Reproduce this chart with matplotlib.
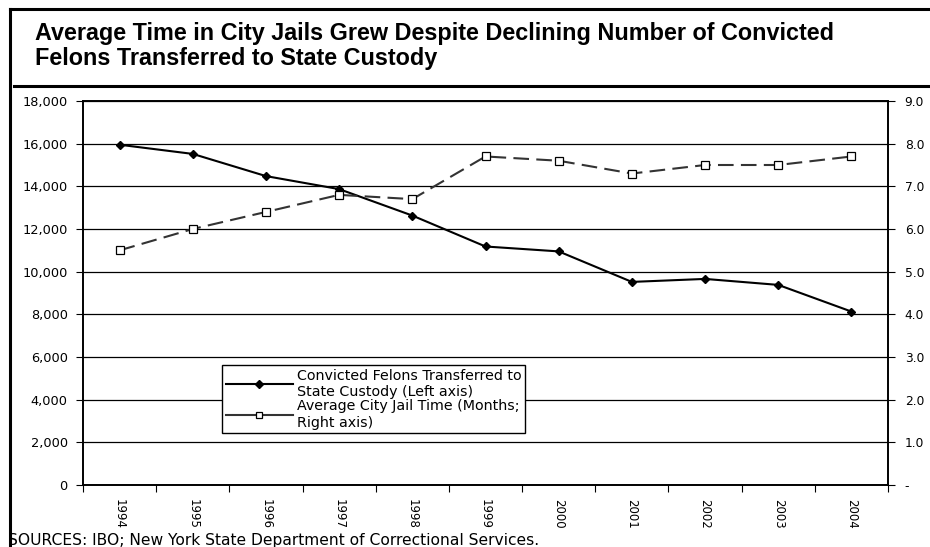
import numpy as np
import matplotlib.pyplot as plt
from matplotlib.lines import Line2D
from matplotlib.ticker import FuncFormatter

years = ['1994', '1995', '1996', '1997', '1998', '1999', '2000', '2001', '2002', '2003', '2004']
felons = [15950, 15520, 14480, 13870, 12630, 11180, 10950, 9520, 9660, 9380, 8130]
jail_months = [5.5, 6.0, 6.4, 6.8, 6.7, 7.7, 7.6, 7.3, 7.5, 7.5, 7.7]

plt.rcParams['font.family'] = ['DejaVu Sans']

fig = plt.figure(figsize=(9.3, 5.47), dpi=100)
W, H = 930, 547

# frame lines round the chart
fig.add_artist(Line2D([10/W, 10/W], [0, 1 - 9/H], color='black', lw=2.2))
fig.add_artist(Line2D([10/W, 1], [1 - 9/H, 1 - 9/H], color='black', lw=2.2))
fig.add_artist(Line2D([14/W, 1], [1 - 85.5/H, 1 - 85.5/H], color='black', lw=2.2))

fig.text(35/W, 1 - 22/H, 'Average Time in City Jails Grew Despite Declining Number of Convicted\n'
         'Felons Transferred to State Custody',
         family=['Liberation Sans', 'DejaVu Sans'], fontweight='bold',
         fontsize=16.8, va='top', ha='left', linespacing=1.12)

ax1 = fig.add_axes([83/W, 1 - 485/H, (888 - 83)/W, (485 - 101)/H])
x = np.arange(len(years))
ax1.plot(x, felons, color='black', lw=1.5, marker='D', ms=4.5)
ax1.set_ylim(0, 18000)
ax1.set_yticks(range(0, 18001, 2000))
ax1.yaxis.set_major_formatter(FuncFormatter(lambda v, p: f'{int(v):,}'))
ax1.set_xlim(-0.5, len(years) - 0.5)
ax1.set_xticks(np.arange(-0.5, len(years)))
ax1.set_xticklabels([])
ax1.set_xticks(x, minor=True)
ax1.set_xticklabels(years, minor=True, rotation=270, fontsize=8.5)
ax1.tick_params(axis='x', which='minor', length=0, pad=10)
ax1.tick_params(axis='x', which='major', length=5, direction='out')
ax1.tick_params(axis='y', length=5, labelsize=9.3, pad=6)
ax1.grid(axis='y', color='black', lw=0.9)
ax1.set_axisbelow(True)

ax2 = ax1.twinx()
ax2.plot(x, jail_months, color='#333333', lw=1.5, dashes=(7.5, 3.5), marker='s', ms=5.5,
         mfc='white', mec='black', mew=0.9)
ax2.set_ylim(0, 9)
ax2.set_yticks(np.arange(0, 9.1, 1))
ax2.yaxis.set_major_formatter(FuncFormatter(lambda v, p: '-' if v == 0 else f'{v:.1f}'))
ax2.tick_params(axis='y', length=5, labelsize=8.8, pad=7)

for a in (ax1, ax2):
    for s in a.spines.values():
        s.set_linewidth(1.2)

h1 = Line2D([], [], color='black', lw=1.5, marker='D', ms=4.5)
h2 = Line2D([], [], color='#333333', lw=1.5, marker='s', ms=5,
            mfc='white', mec='black', mew=0.9)
leg = ax1.legend([h1, h2], ['Convicted Felons Transferred to\nState Custody (Left axis)',
                            'Average City Jail Time (Months;\nRight axis)'],
                 loc='upper left', bbox_to_anchor=((222 - 83)/805, (485 - 365)/384),
                 borderaxespad=0, fontsize=10.3, frameon=True, fancybox=False, edgecolor='black',
                 framealpha=1, borderpad=0.25, labelspacing=0.05, handlelength=4.7, handletextpad=0.3)
leg.get_frame().set_linewidth(1.0)
leg.set_zorder(10)

fig.text(8/W, 1 - 541/H, 'SOURCES: IBO; New York State Department of Correctional Services.',
         fontsize=11.2, va='center', ha='left')

fig.savefig('out.png', dpi=100)
